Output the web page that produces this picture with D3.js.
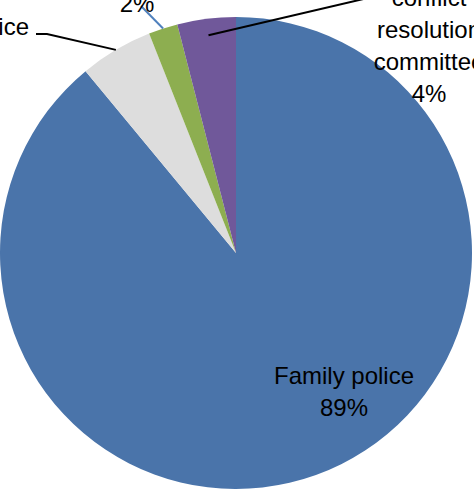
<!DOCTYPE html>
<html>
<head>
<meta charset="utf-8">
<script src="https://cdn.jsdelivr.net/npm/d3@7"></script>
<style>
  html, body { margin: 0; padding: 0; background: #fff; overflow: hidden; }
  text { font-family: "Liberation Sans", Arial, sans-serif; fill: #000; }
</style>
</head>
<body>
<script>
// categories, clockwise from 12 o'clock
let categories = ["Family police", "Police", "Other", "Conflict resolution committee"];
// share in percent
let values = [89, 5, 2, 4];
// label text lines as shown on the chart
let labelLines = [
  ["Family police", "89%"],
  ["Police"],
  ["2%"],
  ["conflict", "resolution", "committee", "4%"]
];

let width = 474;
let height = 492;
let cx = 236, cy = 253, radius = 236;

let colors = d3.scaleOrdinal()
  .domain(categories)
  .range(["#4A74AA", "#DDDDDD", "#8DAE50", "#70589A"]);

let svg = d3.select("body").append("svg")
  .attr("width", width)
  .attr("height", height);

let pie = d3.pie().sort(null).value(d => d.value);
let arcs = pie(categories.map((c, i) => ({ name: c, value: values[i], lines: labelLines[i] })));

let arc = d3.arc().innerRadius(0).outerRadius(radius);

let g = svg.append("g").attr("transform", "translate(" + cx + "," + cy + ")");

g.selectAll("path")
  .data(arcs)
  .enter()
  .append("path")
  .attr("d", arc)
  .attr("fill", d => colors(d.data.name));

// point on a slice's middle angle at radius r (pie coordinates)
function midPoint(d, r) {
  let a = (d.startAngle + d.endAngle) / 2;
  return [Math.sin(a) * r, -Math.cos(a) * r];
}

// label placement (page coords) and leader lines
let labelPos = [
  { x: 344, y: 384, anchor: "middle", leader: null },
  { x: 29, y: 35, anchor: "end", leader: [[36, 34], [47, 34]], r: 1.0, color: "#000" },
  { x: 137, y: 12, anchor: "middle", leader: [[141, 6]], r: 1.0, color: "#4F81BD" },
  { x: 429, y: 6, anchor: "middle", leader: [[372, -3]], r: 0.93, color: "#000" }
];

arcs.forEach(function(d, i) {
  let p = labelPos[i];
  if (p.leader) {
    let end = midPoint(d, radius * p.r);
    let pts = p.leader.concat([[end[0] + cx, end[1] + cy]]);
    svg.append("path")
      .attr("d", d3.line()(pts))
      .attr("fill", "none")
      .attr("stroke", p.color)
      .attr("stroke-width", 2);
  }
  let t = svg.append("text")
    .attr("x", p.x)
    .attr("y", p.y)
    .attr("text-anchor", p.anchor)
    .style("font-size", "24px");
  d.data.lines.forEach(function(line, j) {
    t.append("tspan")
      .attr("x", p.x)
      .attr("y", p.y + j * 32)
      .text(line);
  });
});
</script>
</body>
</html>
